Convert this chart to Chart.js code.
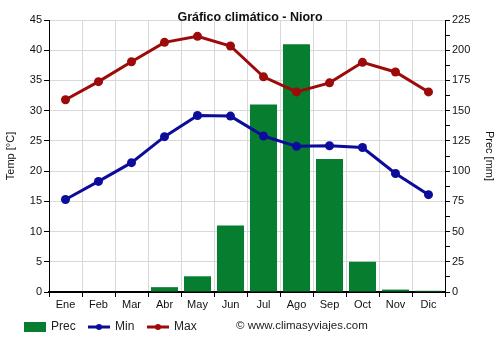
<!DOCTYPE html>
<html>
<head>
<meta charset="utf-8">
<script src="https://cdn.jsdelivr.net/npm/chart.js@4"></script>
<style>
  html, body { margin: 0; padding: 0; background: #fff; }
  #wrap { width: 500px; height: 350px; }
</style>
</head>
<body>
<div id="wrap"><canvas id="clima"></canvas></div>
<script>
// Datos mensuales de Nioro
const meses = ['Ene', 'Feb', 'Mar', 'Abr', 'May', 'Jun', 'Jul', 'Ago', 'Sep', 'Oct', 'Nov', 'Dic']
const precipitacion = [0, 0, 0, 4, 13, 55, 155, 205, 110, 25, 2, 1]
const tempMin = [15.3, 18.3, 21.4, 25.7, 29.2, 29.1, 25.8, 24.1, 24.2, 23.9, 19.6, 16.1]
const tempMax = [31.8, 34.8, 38.1, 41.3, 42.3, 40.7, 35.6, 33.1, 34.6, 38.0, 36.4, 33.1]

const VERDE = '#077d30'
const AZUL = '#0c0c9c'
const ROJO = '#9c0a0a'
const FUENTE = 'Liberation Sans, Arial, sans-serif'

// Título, leyenda y copyright dibujados a mano sobre el canvas
const extras = {
  id: 'extras',
  afterDraw(chart) {
    const ctx = chart.ctx
    ctx.save()
    ctx.fillStyle = '#111'
    ctx.font = `bold 12.5px ${FUENTE}`
    ctx.textAlign = 'center'
    ctx.textBaseline = 'middle'
    ctx.fillText('Gráfico climático - Nioro', 250, 18)

    ctx.font = `12px ${FUENTE}`
    ctx.textAlign = 'left'
    const yl = 327
    const ds = chart.data.datasets
    // Prec
    ctx.fillStyle = ds[0].backgroundColor
    ctx.fillRect(24, yl - 5, 22, 10)
    ctx.fillStyle = '#222'
    ctx.fillText(ds[0].label, 51, yl)
    // Min y Max
    const items = [[ds[1], 88], [ds[2], 147]]
    for (let [d, x] of items) {
      ctx.strokeStyle = d.borderColor
      ctx.lineWidth = 3
      ctx.beginPath()
      ctx.moveTo(x, yl)
      ctx.lineTo(x + 22, yl)
      ctx.stroke()
      ctx.fillStyle = d.borderColor
      ctx.beginPath()
      ctx.arc(x + 11, yl, 3, 0, Math.PI * 2)
      ctx.fill()
      ctx.fillStyle = '#222'
      ctx.fillText(d.label, x + 27, yl)
    }
    ctx.font = `11.5px ${FUENTE}`
    ctx.fillText('© www.climasyviajes.com', 236, yl - 1)
    ctx.restore()
  }
}

Chart.defaults.font.family = FUENTE
Chart.defaults.font.size = 11
Chart.defaults.color = '#111'

new Chart(document.getElementById('clima'), {
  type: 'bar',
  data: {
    labels: meses,
    datasets: [{
      type: 'bar',
      label: 'Prec',
      data: precipitacion,
      backgroundColor: VERDE,
      yAxisID: 'y1',
      categoryPercentage: 1,
      barPercentage: 0.82,
      order: 3
    }, {
      type: 'line',
      label: 'Min',
      data: tempMin,
      borderColor: AZUL,
      backgroundColor: AZUL,
      borderWidth: 3,
      pointRadius: 4.5,
      pointBackgroundColor: AZUL,
      pointBorderWidth: 0,
      yAxisID: 'y',
      order: 1
    }, {
      type: 'line',
      label: 'Max',
      data: tempMax,
      borderColor: ROJO,
      backgroundColor: ROJO,
      borderWidth: 3,
      pointRadius: 4.5,
      pointBackgroundColor: ROJO,
      pointBorderWidth: 0,
      yAxisID: 'y',
      order: 2
    }]
  },
  options: {
    responsive: true,
    maintainAspectRatio: false,
    animation: false,
    layout: { padding: { top: 20, bottom: 38, left: 0, right: 0 } },
    plugins: {
      legend: { display: false },
      tooltip: { enabled: false }
    },
    scales: {
      x: {
        offset: true,
        grid: {
          offset: true,
          color: '#d9d9d9',
          tickColor: '#000',
          tickLength: 5
        },
        border: { color: '#000', width: 2 },
        ticks: { padding: 1, color: '#111' },
        afterFit: (s) => { s.height = 20 }
      },
      y: {
        position: 'left',
        min: 0,
        max: 45,
        ticks: { stepSize: 5, padding: 2, color: '#111' },
        grid: { color: '#d9d9d9', tickColor: '#000', tickLength: 5 },
        border: { color: '#000', width: 1 },
        title: { display: true, text: 'Temp [°C]', font: { size: 11 }, padding: { top: 4, bottom: 0 }, color: '#111' },
        afterFit: (s) => { s.width = 49 }
      },
      y1: {
        position: 'right',
        min: 0,
        max: 225,
        ticks: {
          stepSize: 12.5,
          padding: 2,
          color: '#111',
          autoSkip: false,
          callback: (v) => (v % 25 === 0 ? v : '')
        },
        grid: { drawOnChartArea: false, color: '#000', tickLength: 5 },
        border: { color: '#000', width: 1 },
        title: { display: true, text: 'Prec [mm]', font: { size: 11 }, padding: 4, color: '#111' },
        afterFit: (s) => { s.width = 55 }
      }
    }
  },
  plugins: [extras]
})
</script>
</body>
</html>
